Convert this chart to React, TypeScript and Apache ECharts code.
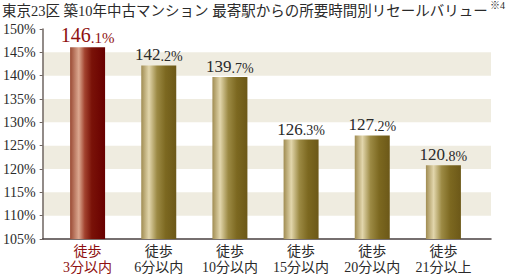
import React, { useEffect, useRef } from "react";
import * as echarts from "echarts";

const TITLE = "東京23区 築10年中古マンション 最寄駅からの所要時間別リセールバリュー";
const NOTE = "※4";
const categories = ["徒歩\n3分以内", "徒歩\n6分以内", "徒歩\n10分以内", "徒歩\n15分以内", "徒歩\n20分以内", "徒歩\n21分以上"];
const values = [146.1, 142.2, 139.7, 126.3, 127.2, 120.8];
const yMin = 105;
const yMax = 150;
const yStep = 5;

const SERIF = "'Liberation Serif', 'Noto Sans CJK JP', serif";
const RED = "#8e1010";
const DARK = "#2a2a2a";

export default function App() {
  const ref = useRef<HTMLDivElement>(null);
  useEffect(() => {
    const chart = echarts.init(ref.current!, undefined, { renderer: "svg" });
    const redGrad = new echarts.graphic.LinearGradient(0, 0, 1, 0, [
      { offset: 0, color: "#9a4a34" },
      { offset: 0.25, color: "#dca890" },
      { offset: 0.42, color: "#a2422e" },
      { offset: 0.62, color: "#7a1208" },
      { offset: 1, color: "#680000" },
    ]);
    const goldGrad = new echarts.graphic.LinearGradient(0, 0, 1, 0, [
      { offset: 0, color: "#a08c52" },
      { offset: 0.22, color: "#e2d6ac" },
      { offset: 0.45, color: "#9c8a44" },
      { offset: 0.7, color: "#7c6820" },
      { offset: 1, color: "#6c5818" },
    ]);
    const grid = { top: 29, bottom: 37 };
    chart.setOption({
      animation: false,
      graphic: [
        {
          type: "text",
          left: 2,
          top: 4,
          style: { text: TITLE, fontSize: 14.5, fontFamily: SERIF, fill: DARK },
        },
        {
          type: "text",
          left: 490,
          top: 0,
          style: { text: NOTE, fontSize: 10, fontFamily: SERIF, fill: DARK },
        },
      ],
      grid: [
        { left: 40, right: 19, ...grid },
        { left: 52, right: 31, ...grid },
      ],
      xAxis: [
        {
          gridIndex: 0,
          type: "category",
          data: [""],
          axisLine: { show: true, lineStyle: { color: "#4a4040", width: 1.5 } },
          axisTick: { show: false },
          axisLabel: { show: false },
        },
        {
          gridIndex: 1,
          type: "category",
          data: categories,
          axisLine: { show: false },
          axisTick: { show: false },
          axisLabel: {
            margin: 5,
            interval: 0,
            formatter: (v: string, i: number) =>
              v
                .split("\n")
                .map((s) => `{${i === 0 ? "r" : "n"}|${s}}`)
                .join("\n"),
            rich: {
              r: { fontSize: 14, color: RED, fontFamily: SERIF, lineHeight: 15.5 },
              n: { fontSize: 14, color: DARK, fontFamily: SERIF, lineHeight: 15.5 },
            },
          },
        },
      ],
      yAxis: [
        {
          gridIndex: 0,
          type: "value",
          min: yMin,
          max: yMax,
          interval: yStep,
          axisLine: { show: true, lineStyle: { color: "#6e6460", width: 1.5 } },
          axisTick: { show: true, length: 3, lineStyle: { color: "#6e6460" } },
          axisLabel: {
            formatter: "{value}%",
            margin: 7,
            fontSize: 14,
            fontFamily: SERIF,
            color: DARK,
          },
          splitLine: { show: false },
          splitArea: { show: true, areaStyle: { color: ["rgba(0,0,0,0)", "#efece0"] } },
        },
        {
          gridIndex: 1,
          type: "value",
          min: yMin,
          max: yMax,
          interval: yStep,
          show: false,
          splitLine: { show: false },
        },
      ],
      series: [
        {
          type: "bar",
          xAxisIndex: 1,
          yAxisIndex: 1,
          barWidth: 35,
          data: values.map((v, i) => ({
            value: v,
            itemStyle: { color: i === 0 ? redGrad : goldGrad },
          })),
          label: {
            show: true,
            position: "top",
            distance: 2,
            formatter: (p: any) => {
              const [a, b] = (p.value as number).toFixed(1).split(".");
              return p.dataIndex === 0 ? `{A|${a}}{B|.${b}%}` : `{a|${a}}{b|.${b}%}`;
            },
            rich: {
              A: { fontSize: 20, color: RED, fontFamily: SERIF, verticalAlign: "bottom", lineHeight: 20 },
              B: { fontSize: 15, color: RED, fontFamily: SERIF, verticalAlign: "bottom", lineHeight: 20 },
              a: { fontSize: 17, color: DARK, fontFamily: SERIF, verticalAlign: "bottom", lineHeight: 17 },
              b: { fontSize: 14, color: DARK, fontFamily: SERIF, verticalAlign: "bottom", lineHeight: 17 },
            },
          },
        },
      ],
    });
    return () => chart.dispose();
  }, []);
  return (
    <div
      ref={ref}
      style={{ position: "fixed", left: 0, top: 0, width: 510, height: 276, background: "#fff" }}
    />
  );
}
